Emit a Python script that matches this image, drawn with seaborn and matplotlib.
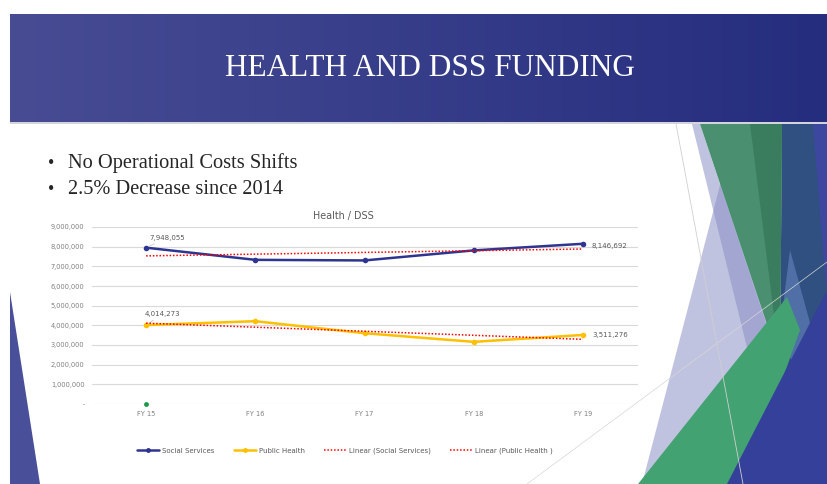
import numpy as np
import pandas as pd
import seaborn as sns
import matplotlib.pyplot as plt
from matplotlib.patches import Polygon
from matplotlib.lines import Line2D
from matplotlib.ticker import FuncFormatter

#------------------------------------------------------------------------------#
# chart data
years           = ['FY 15', 'FY 16', 'FY 17', 'FY 18', 'FY 19']
social_services = [7948055, 7330000, 7300000, 7810000, 8146692]
public_health   = [4014273, 4210000, 3600000, 3160000, 3511276]
stray_value     = [0]
yticks          = [0, 1000000, 2000000, 3000000, 4000000, 5000000,
                   6000000, 7000000, 8000000, 9000000]
bullets         = ['No Operational Costs Shifts', '2.5% Decrease since 2014']
#------------------------------------------------------------------------------#

W, H = 827, 484
navy  = '#2e3590'
gold  = '#ffc000'
grey  = '#595959'

sns.set_theme(style='white')
plt.rcParams['font.family'] = ['DejaVu Sans']

fig = plt.figure(figsize=(W / 100, H / 100), dpi=100)

# slide background layer, pixel coordinates
bg = fig.add_axes([0, 0, 1, 1])
bg.set_xlim(0, W)
bg.set_ylim(H, 0)
bg.axis('off')

# banner with gradient
c1 = np.array([0x47, 0x4c, 0x93]) / 255
c2 = np.array([0x25, 0x2d, 0x7e]) / 255
t = np.linspace(0, 1, 256)[None, :, None]
grad = c1 + (c2 - c1) * t
bg.imshow(grad, extent=[10, W, 122, 14], aspect='auto', zorder=1)
bg.add_patch(Polygon([(10, 122), (W, 122), (W, 124), (10, 124)],
                     color='#d4d4dc', lw=0, zorder=1))

# decorative facets
bg.add_patch(Polygon([(10, 292), (10, H), (40, H)], color='#4a4f9a', lw=0))
bg.plot([527, 827], [484, 262], color='#d6d6d6', lw=0.5)
bg.plot([676, 743], [124, 484], color='#cfcfcf', lw=0.6)
lav = '#878cc4'
bg.add_patch(Polygon([(736, 124), (642, H), (800, H), (800, 124)],
                     color=lav, alpha=0.52, lw=0))
bg.add_patch(Polygon([(692, 124), (700, 124), (785, 380), (755, 380)],
                     color=lav, alpha=0.52, lw=0))
bg.add_patch(Polygon([(782, 124), (827, 124), (827, H), (727, H), (780, 363)],
                     color='#2f5080', lw=0))
bg.add_patch(Polygon([(700, 124), (782, 124), (780, 363)], color='#4a9070', lw=0))
bg.add_patch(Polygon([(750, 124), (782, 124), (780, 363)], color='#3a7d5e', lw=0))
bg.add_patch(Polygon([(790, 250), (812, 330), (795, 370), (780, 330)],
                     color='#5878b0', lw=0, alpha=0.8))
bg.add_patch(Polygon([(638, H), (787, 297), (800, 330), (745, H)],
                     color='#43a272', lw=0))
bg.add_patch(Polygon([(813, 124), (827, 124), (827, 300)], color='#3d479f', lw=0))
bg.add_patch(Polygon([(727, H), (827, 290), (827, H)], color='#34409a', lw=0))

# slide title and bullets
fig.text(430 / W, 1 - 68 / H, 'HEALTH AND DSS FUNDING', ha='center', va='center',
         family='Liberation Serif', fontsize=22.5, color='white')
for i, b in enumerate(bullets):
    y = 1 - (163 + 27 * i) / H
    fig.text(48 / W, y, '\u2022', ha='left', va='center',
             family='Liberation Serif', fontsize=13, color='#262626')
    fig.text(68 / W, y, b, ha='left', va='center',
             family='Liberation Serif', fontsize=14.7, color='#262626')

# chart
ax = fig.add_axes([91.5 / W, 1 - 404 / H, 546 / W, 177 / H])
ax.patch.set_alpha(0)

df = pd.DataFrame({'year': years * 2,
                   'value': social_services + public_health,
                   'series': ['Social Services'] * 5 + ['Public Health'] * 5})
sns.lineplot(data=df, x='year', y='value', hue='series',
             palette={'Social Services': navy, 'Public Health': gold},
             marker='o', markersize=4, markeredgewidth=0, linewidth=1.8,
             legend=False, ax=ax, zorder=3)

idx = np.arange(len(years))
for vals in (social_services, public_health):
    fit = np.polyfit(idx, vals, 1)
    ax.plot(idx, np.polyval(fit, idx), color='red', lw=1.1,
            ls=(0, (1, 1.2)), zorder=4)

ax.plot([0], stray_value, 'o', color='#1e9a4a', ms=3.5, mew=0, clip_on=False,
        zorder=5)

ax.set_xlim(-0.5, len(years) - 0.5)
ax.set_ylim(0, 9000000)
ax.set_yticks(yticks)
ax.yaxis.set_major_formatter(FuncFormatter(lambda v, p: '-' if v == 0 else f'{v:,.0f}'))
ax.yaxis.grid(True, color='#d9d9d9', lw=0.8)
ax.xaxis.grid(False)
for s in ax.spines.values():
    s.set_visible(False)
ax.tick_params(axis='both', length=0, labelsize=4.8, labelcolor='#7f7f7f')
ax.tick_params(axis='y', pad=5)
ax.tick_params(axis='x', pad=5)
ax.set_xlabel('')
ax.set_ylabel('')

# data labels
lbl = dict(fontsize=5, color=grey, textcoords='offset points', va='center', ha='left')
ax.annotate(f'{social_services[0]:,}', xy=(0, social_services[0]), xytext=(2.2, 7.2),
            arrowprops=dict(arrowstyle='-', color='#bfbfbf', lw=0.5, shrinkA=0, shrinkB=2), **lbl)
ax.annotate(f'{public_health[0]:,}', xy=(0, public_health[0]), xytext=(-0.7, 8),
            arrowprops=dict(arrowstyle='-', color='#bfbfbf', lw=0.5, shrinkA=0, shrinkB=2), **lbl)
ax.annotate(f'{social_services[-1]:,}', xy=(4, social_services[-1]), xytext=(6.5, -1.4), **lbl)
ax.annotate(f'{public_health[-1]:,}', xy=(4, public_health[-1]), xytext=(6.5, 0), **lbl)

fig.text(343 / W, 1 - 216 / H, 'Health / DSS', ha='center', va='center',
         fontsize=6.9, color=grey)

handles = [Line2D([], [], color=navy, lw=1.8, marker='o', ms=2.5),
           Line2D([], [], color=gold, lw=1.8, marker='o', ms=2.5),
           Line2D([], [], color='red', lw=1.1, ls=(0, (1, 1.2))),
           Line2D([], [], color='red', lw=1.1, ls=(0, (1, 1.2)))]
labels = ['Social Services', 'Public Health', 'Linear (Social Services)',
          'Linear (Public Health )']
fig.legend(handles, labels, loc='center', bbox_to_anchor=(345 / W, 1 - 451 / H),
           ncol=4, frameon=False, fontsize=5, labelcolor=grey,
           handlelength=3.2, handletextpad=0.4, columnspacing=2.8)

plt.savefig('out.png', dpi=100)
